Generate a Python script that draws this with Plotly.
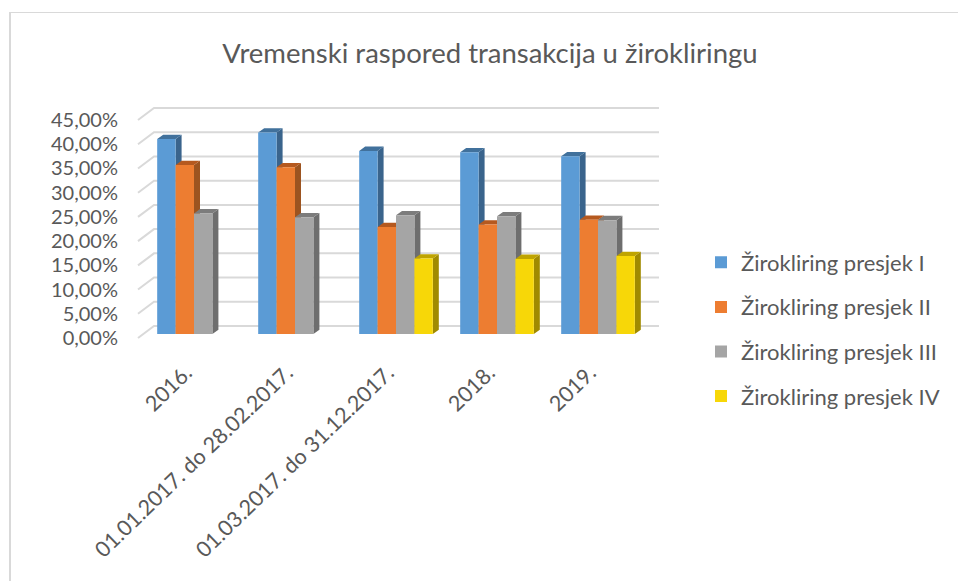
import plotly.graph_objects as go

categories = ["2016.", "01.01.2017. do 28.02.2017.", "01.03.2017. do 31.12.2017.", "2018.", "2019."]
series_names = ["Žirokliring presjek I", "Žirokliring presjek II", "Žirokliring presjek III", "Žirokliring presjek IV"]
presjek_1 = [40.25, 41.6, 37.8, 37.5, 36.7]
presjek_2 = [34.9, 34.4, 22.1, 22.6, 23.6]
presjek_3 = [24.9, 24.1, 24.5, 24.3, 23.5]
presjek_4 = [None, None, 15.6, 15.5, 16.1]
tick_values = [0, 5, 10, 15, 20, 25, 30, 35, 40, 45]
tick_labels = ["0,00%", "5,00%", "10,00%", "15,00%", "20,00%", "25,00%", "30,00%", "35,00%", "40,00%", "45,00%"]
front_colors = ["#5b9bd5", "#ed7d31", "#a5a5a5", "#f7d708"]
side_colors = ["#3a648c", "#9c5420", "#6e6e6e", "#a08a00"]
top_colors = ["#41719c", "#b5591f", "#7c7c7c", "#bfa400"]

W, H = 958, 581
L, R, T, B = 119, 665, 100, 342
PX_X = 101.0
PX_Y = 4.844
x_range = [(L - 194) / PX_X, (R - 194) / PX_X]
y_range = [(334 - B) / PX_Y, (334 - T) / PX_Y]
FONT = "Lato, 'Open Sans', sans-serif"
TXT = "#595959"

bargap = 0.271
slot = (1 - bargap) / 4
dx = 6 / PX_X
dy = 4.3 / PX_Y
wall_front = -4 / PX_Y
wall_back = 8 / PX_Y
wall_left = (138 - 194) / PX_X
wall_inner = (154 - 194) / PX_X
wall_right = (659 - 194) / PX_X
label_shift = 8 / PX_X

fig = go.Figure()

gx, gy = [], []
for v in tick_values:
    gx += [wall_left, wall_inner, wall_right, None]
    gy += [v + wall_front, v + wall_back, v + wall_back, None]
fig.add_trace(go.Scatter(x=gx, y=gy, mode="lines", line=dict(color="#d9d9d9", width=2),
                         hoverinfo="skip", showlegend=False, xaxis="x", yaxis="y"))

all_series = [presjek_1, presjek_2, presjek_3, presjek_4]
positions = list(range(len(categories)))

for s, values in enumerate(all_series):
    sx, sy, tx, ty = [], [], [], []
    for c, v in zip(positions, values):
        if v is None:
            continue
        x0 = c + (s - 2) * slot
        x1 = x0 + slot
        sx += [x1, x1 + dx, x1 + dx, x1, x1, None]
        sy += [0, dy, v + dy, v, 0, None]
        tx += [x0, x0 + dx, x1 + dx, x1, x0, None]
        ty += [v, v + dy, v + dy, v, v, None]
    fig.add_trace(go.Scatter(x=sx, y=sy, mode="lines", fill="toself", fillcolor=side_colors[s],
                             line=dict(width=0, color=side_colors[s]), hoverinfo="skip",
                             showlegend=False, xaxis="x", yaxis="y"))
    fig.add_trace(go.Scatter(x=tx, y=ty, mode="lines", fill="toself", fillcolor=top_colors[s],
                             line=dict(width=0, color=top_colors[s]), hoverinfo="skip",
                             showlegend=False, xaxis="x", yaxis="y"))

for s, values in enumerate(all_series):
    fig.add_trace(go.Bar(x=positions, y=values, name=series_names[s], marker=dict(color=front_colors[s], line=dict(width=0)),
                         legendgroup=series_names[s], xaxis="x2", yaxis="y2"))

fig.update_layout(
    width=W, height=H,
    margin=dict(l=L, r=W - R, t=T, b=H - B, autoexpand=False),
    paper_bgcolor="white", plot_bgcolor="rgba(0,0,0,0)",
    font=dict(family=FONT, color=TXT),
    barmode="group", bargap=bargap, bargroupgap=0,
    title=dict(text="Vremenski raspored transakcija u žirokliringu", x=490 / W, y=1 - 53 / H,
               xanchor="center", yanchor="middle", font=dict(size=27.5, family=FONT, color=TXT)),
    xaxis=dict(range=x_range, tickmode="array", tickvals=[p - label_shift for p in positions], ticktext=categories, tickangle=-44,
               showgrid=False, zeroline=False, showline=False, ticks="", ticklabelstandoff=13,
               tickfont=dict(size=21.5, family=FONT, color=TXT)),
    yaxis=dict(range=y_range, tickmode="array", tickvals=[v + wall_front for v in tick_values], ticktext=tick_labels,
               showgrid=False, zeroline=False, showline=False, ticks="",
               tickfont=dict(size=20, family=FONT, color=TXT)),
    xaxis2=dict(range=x_range, overlaying="x", visible=False),
    yaxis2=dict(range=y_range, overlaying="y", visible=False),
    legend=dict(xref="container", yref="container", x=701 / W, y=1 - 241.5 / H, xanchor="left", yanchor="top",
                tracegroupgap=13, font=dict(size=22, family=FONT, color=TXT), bgcolor="rgba(0,0,0,0)",
                traceorder="grouped"),
    showlegend=True,
    shapes=[
        dict(type="line", xref="paper", yref="paper", x0=(9.5 - L) / (R - L), x1=(958 - L) / (R - L),
             y0=(B - 12.5) / (B - T), y1=(B - 12.5) / (B - T), line=dict(color="#d9d9d9", width=1)),
        dict(type="line", xref="paper", yref="paper", x0=(10 - L) / (R - L), x1=(10 - L) / (R - L),
             y0=(B - 12) / (B - T), y1=(B - 581) / (B - T), line=dict(color="#d9d9d9", width=2)),
    ],
)
fig.write_html("out.html", config={"displayModeBar": False}, post_script="document.body.style.margin='0';")
